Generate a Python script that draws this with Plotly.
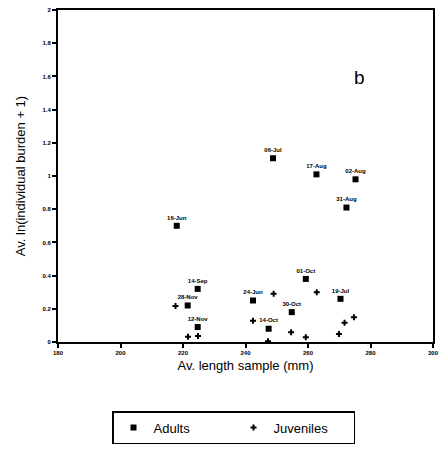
import plotly.graph_objects as go

adult_labels = ["16-Jun", "14-Sep", "28-Nov", "12-Nov", "24-Jun", "14-Oct", "30-Oct",
                "01-Oct", "19-Jul", "31-Aug", "06-Jul", "17-Aug", "02-Aug"]
adult_x = [218.0, 224.7, 221.5, 224.7, 242.4, 247.4, 254.8, 259.3, 270.4, 272.3, 248.8, 262.7, 275.2]
adult_y = [0.70, 0.32, 0.22, 0.09, 0.25, 0.08, 0.18, 0.38, 0.26, 0.81, 1.107, 1.01, 0.98]

juv_x = [217.6, 221.6, 224.8, 242.4, 247.2, 249.0, 254.6, 259.3, 262.8, 269.9, 271.7, 274.7]
juv_y = [0.217, 0.032, 0.036, 0.128, 0.005, 0.29, 0.058, 0.028, 0.30, 0.048, 0.116, 0.149]

x_ticks = [180, 200, 220, 240, 260, 280, 300]
y_ticks = [0, 0.2, 0.4, 0.6, 0.8, 1, 1.2, 1.4, 1.6, 1.8, 2]

FONT = "Liberation Sans, Arial, sans-serif"

fig = go.Figure()
fig.add_trace(go.Scatter(
    x=adult_x, y=adult_y, mode="markers+text", name="Adults",
    text=adult_labels, textposition="top center",
    textfont=dict(size=6, color="#000000", family=FONT, weight="bold"),
    marker=dict(symbol="square", size=6, color="black"),
))
fig.add_trace(go.Scatter(
    x=juv_x, y=juv_y, mode="markers", name="Juveniles",
    marker=dict(symbol="cross", size=5, color="black"),
))

fig.update_layout(
    width=439, height=449,
    margin=dict(l=58, r=6, t=10, b=107, autoexpand=False),
    paper_bgcolor="white", plot_bgcolor="white",
    font=dict(family=FONT, color="black"),
    showlegend=True,
    legend=dict(
        orientation="h", x=0.144, xanchor="left", y=-0.208, yanchor="top",
        bordercolor="black", borderwidth=1.5,
        font=dict(size=13, family=FONT),
        entrywidth=75, entrywidthmode="pixels",
    ),
    xaxis=dict(
        range=[180, 300], tickvals=x_ticks, ticktext=[str(v) for v in x_ticks],
        showline=True, linecolor="black", linewidth=2, mirror=True,
        ticks="outside", ticklen=4, tickwidth=1.5, tickcolor="black",
        showgrid=False, zeroline=False, automargin=False,
        tickfont=dict(size=6, family=FONT, weight="bold"),
        title=dict(text="Av. length sample (mm)", font=dict(size=13, family=FONT), standoff=6),
    ),
    yaxis=dict(
        range=[0, 2], tickvals=y_ticks, ticktext=[("%g" % v) for v in y_ticks],
        showline=True, linecolor="black", linewidth=2, mirror=True,
        ticks="outside", ticklen=4, tickwidth=1.5, tickcolor="black",
        showgrid=False, zeroline=False, automargin=False,
        tickfont=dict(size=6, family=FONT, weight="bold"),
        title=dict(text="Av. ln(individual burden + 1)", font=dict(size=13, family=FONT), standoff=14),
    ),
    annotations=[dict(text="b", x=0.824, y=0.835, xref="paper", yref="paper",
                      showarrow=False, font=dict(size=19, family=FONT))],
)

fig.write_html("out.html")
